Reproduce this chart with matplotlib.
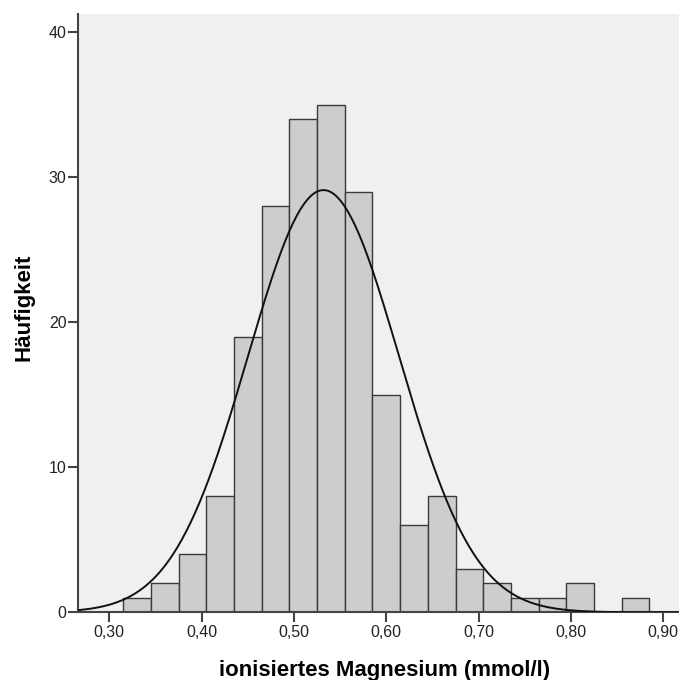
import matplotlib
matplotlib.use("Agg")
import matplotlib.pyplot as plt
import numpy as np

# Histogram of ionised magnesium, bins of 0.03 mmol/l
binEdges = [0.315, 0.345, 0.375, 0.405, 0.435, 0.465, 0.495, 0.525, 0.555, 0.585,
            0.615, 0.645, 0.675, 0.705, 0.735, 0.765, 0.795, 0.825, 0.855, 0.885]
counts = [1, 2, 4, 8, 19, 28, 34, 35, 29, 15, 6, 8, 3, 2, 1, 1, 2, 0, 1]

# Fitted normal curve parameters
mean = 0.532
sd = 0.0818

xTicks = [0.30, 0.40, 0.50, 0.60, 0.70, 0.80, 0.90]
xTickLabels = ["0,30", "0,40", "0,50", "0,60", "0,70", "0,80", "0,90"]
yTicks = [0, 10, 20, 30, 40]

plt.rcParams["font.family"] = ["Liberation Sans", "DejaVu Sans"]

W, H = 679, 680
fig = plt.figure(figsize=(W / 100, H / 100), dpi=100)
ax = fig.add_axes([77.7 / W, 1 - 612.3 / H, (W - 77.7) / W, (612.3 - 14) / H])
ax.set_facecolor("#f0f0f0")

lefts = np.array(binEdges[:-1])
widths = np.diff(binEdges)
ax.bar(lefts, counts, width=widths, align="edge", color="#cdcdcd",
       edgecolor="#3a3a3a", linewidth=1.0, zorder=2)

n = sum(counts)
binWidth = widths[0]
xs = np.linspace(0.2658, 0.917, 400)
ys = n * binWidth / (sd * np.sqrt(2 * np.pi)) * np.exp(-0.5 * ((xs - mean) / sd) ** 2)
ax.plot(xs, ys, color="#111111", linewidth=1.4, zorder=3)

ax.set_xlim(0.2658, 0.917)
ax.set_ylim(0, 41.26)
ax.set_xticks(xTicks)
ax.set_xticklabels(xTickLabels)
ax.set_yticks(yTicks)

for side in ["top", "right"]:
    ax.spines[side].set_visible(False)
for side in ["left", "bottom"]:
    ax.spines[side].set_color("#444444")
    ax.spines[side].set_linewidth(1.5)
ax.tick_params(direction="out", length=7.5, width=1.5, color="#444444",
               labelsize=11.5, labelcolor="#222222")
ax.tick_params(axis="x", pad=1.5)
ax.tick_params(axis="y", pad=0.5)

# axis titles
fig.text(384.5 / W, 1 - 676 / H, "ionisiertes Magnesium (mmol/l)", fontsize=16,
         fontweight="bold", ha="center", va="baseline")
fig.text(13 / W, 1 - 307.5 / H, "Häufigkeit", fontsize=16, fontweight="bold",
         rotation=90, ha="left", va="center")

fig.savefig("out.png", dpi=100)
